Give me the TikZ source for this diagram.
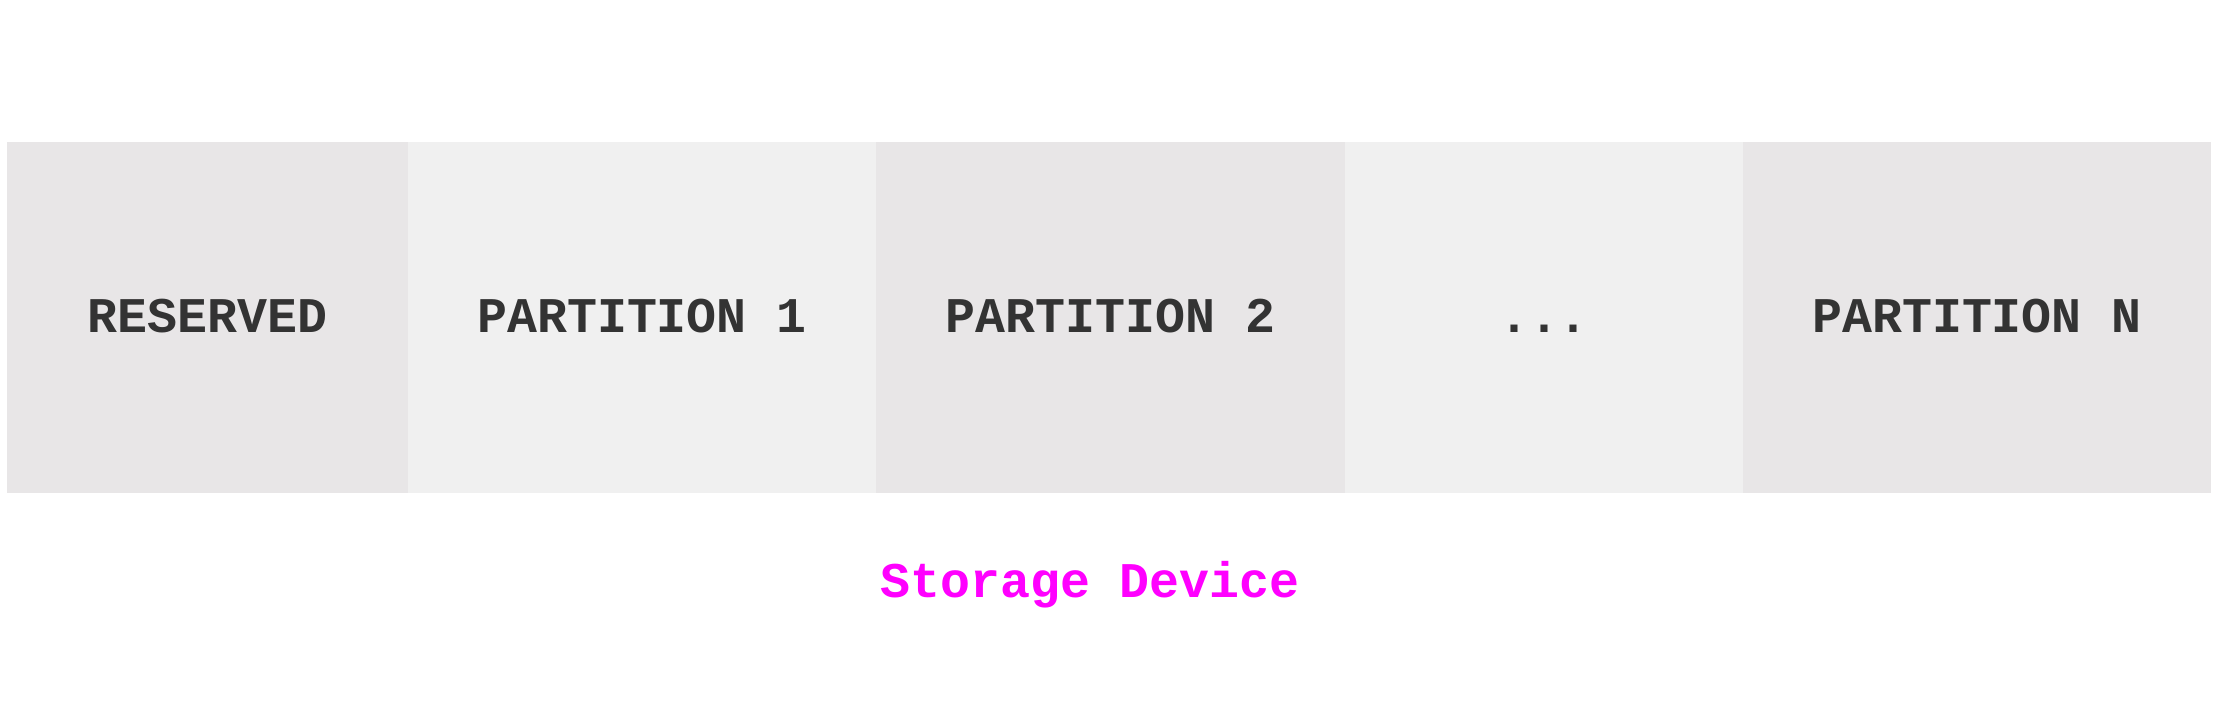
\documentclass[tikz,border=0pt]{standalone}
\usepackage{fontspec}
\setmonofont{Liberation Mono}
\usetikzlibrary{positioning}

\definecolor{celldark}{HTML}{E8E6E7}
\definecolor{celllight}{HTML}{F0F0F0}
\definecolor{inkgray}{HTML}{333333}
\definecolor{devpink}{HTML}{FF00FF}

\tikzset{
  cell/.style={rectangle, inner sep=0pt, outer sep=0pt, minimum height=3.51cm,
    text height=8.4pt, text depth=0pt,
    text=inkgray, font=\ttfamily\bfseries\fontsize{14.2}{17}\selectfont},
  dark/.style={cell, fill=celldark},
  light/.style={cell, fill=celllight},
}

\begin{document}
\begin{tikzpicture}
\useasboundingbox (0,0) rectangle (22.2,7);
% partitions of the device, left to right
\node[dark, minimum width=4.01cm, anchor=north west] (res) at (0.07,5.58) {RESERVED};
\node[light, minimum width=4.68cm, right=0pt of res] (p1) {PARTITION 1};
\node[dark, minimum width=4.69cm, right=0pt of p1] (p2) {PARTITION 2};
\node[light, minimum width=3.98cm, right=0pt of p2] (more) {...};
\node[dark, minimum width=4.68cm, right=0pt of more] (pn) {PARTITION N};
% caption
\node[text=devpink, font=\ttfamily\bfseries\fontsize{14.2}{17}\selectfont] (dev) at (10.9,1.15) {Storage Device};
\end{tikzpicture}
\end{document}
